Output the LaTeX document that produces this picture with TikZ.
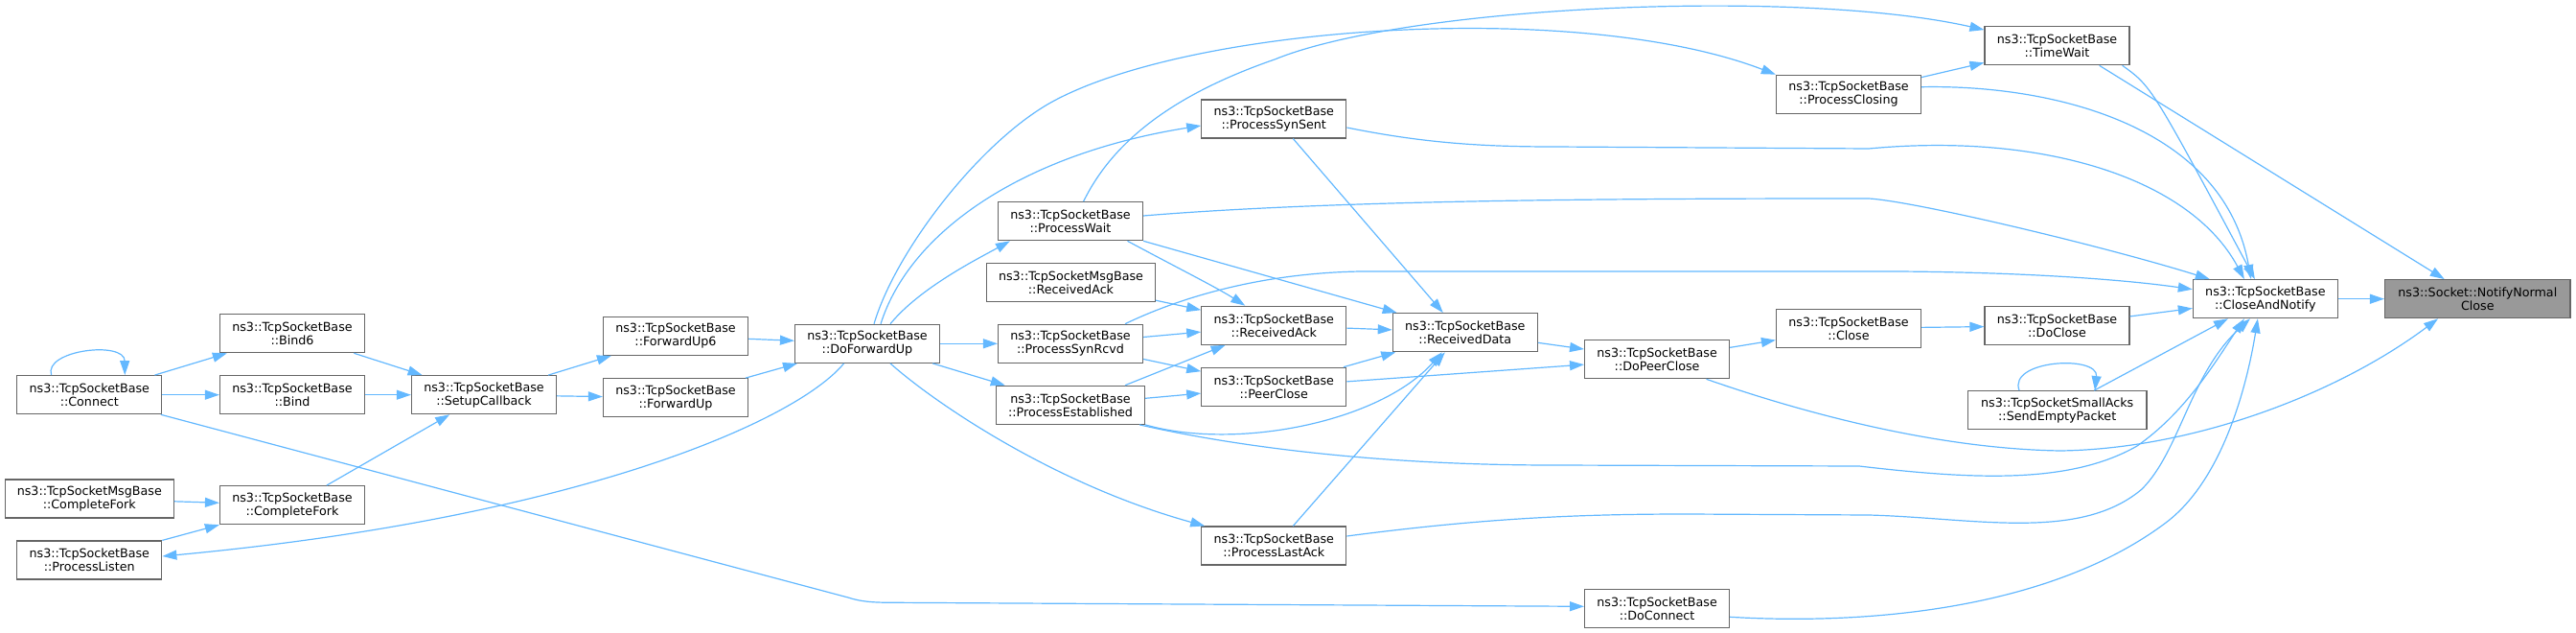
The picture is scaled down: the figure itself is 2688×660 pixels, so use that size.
\documentclass[tikz,border=0pt]{standalone}
\usepackage{fontspec}
\setmainfont{DejaVu Sans}
\usetikzlibrary{arrows.meta}
\definecolor{edgeblue}{HTML}{63B8FF}
\definecolor{boxgray}{HTML}{666666}
\definecolor{nncgray}{HTML}{999999}
\tikzset{
  nbox/.style={draw=boxgray, line width=1.2pt, fill=white, minimum height=40pt, minimum width=151pt,
    inner sep=0pt, align=center, font=\fontsize{12.7}{14}\selectfont},
  conn/.style={draw=edgeblue, line width=1.2pt, -{Triangle[length=15pt,width=10pt]}},
}
\begin{document}
\begin{tikzpicture}[x=1pt,y=-1pt]
\useasboundingbox (0,0) rectangle (2688,660);
% nodes
\node[nbox] (connect) at (93.3,411.7) {ns3::TcpSocketBase\\::Connect};
\node[nbox] (bindsix) at (305,347.7) {ns3::TcpSocketBase\\::Bind6};
\node[nbox] (bind) at (305,411.7) {ns3::TcpSocketBase\\::Bind};
\node[nbox] (setup) at (505,411.7) {ns3::TcpSocketBase\\::SetupCallback};
\node[nbox, minimum width=176pt] (msgfork) at (93.3,520) {ns3::TcpSocketMsgBase\\::CompleteFork};
\node[nbox] (fork) at (305,526.7) {ns3::TcpSocketBase\\::CompleteFork};
\node[nbox] (listen) at (93.3,584) {ns3::TcpSocketBase\\::ProcessListen};
\node[nbox] (fwdsix) at (705,350.3) {ns3::TcpSocketBase\\::ForwardUp6};
\node[nbox] (fwd) at (705,414.7) {ns3::TcpSocketBase\\::ForwardUp};
\node[nbox] (dofwd) at (905,358.3) {ns3::TcpSocketBase\\::DoForwardUp};
\node[nbox] (pwait) at (1117,230.7) {ns3::TcpSocketBase\\::ProcessWait};
\node[nbox, minimum width=176pt] (msgack) at (1117.5,294.5) {ns3::TcpSocketMsgBase\\::ReceivedAck};
\node[nbox] (synrcvd) at (1117,358.3) {ns3::TcpSocketBase\\::ProcessSynRcvd};
\node[nbox, minimum width=155pt] (established) at (1117,422.3) {ns3::TcpSocketBase\\::ProcessEstablished};
\node[nbox] (synsent) at (1329.3,124) {ns3::TcpSocketBase\\::ProcessSynSent};
\node[nbox] (rack) at (1329.3,339.3) {ns3::TcpSocketBase\\::ReceivedAck};
\node[nbox] (peerclose) at (1329.3,403.3) {ns3::TcpSocketBase\\::PeerClose};
\node[nbox] (lastack) at (1329.3,569) {ns3::TcpSocketBase\\::ProcessLastAck};
\node[nbox] (rdata) at (1528.8,346.7) {ns3::TcpSocketBase\\::ReceivedData};
\node[nbox] (dopeer) at (1729.1,374.7) {ns3::TcpSocketBase\\::DoPeerClose};
\node[nbox] (doconn) at (1729.1,634.3) {ns3::TcpSocketBase\\::DoConnect};
\node[nbox] (close) at (1929,342.3) {ns3::TcpSocketBase\\::Close};
\node[nbox] (pclosing) at (1929,98.3) {ns3::TcpSocketBase\\::ProcessClosing};
\node[nbox] (doclose) at (2146.5,339.7) {ns3::TcpSocketBase\\::DoClose};
\node[nbox] (timewait) at (2146.5,47.7) {ns3::TcpSocketBase\\::TimeWait};
\node[nbox, minimum width=186.5pt] (sendempty) at (2146.7,427.7) {ns3::TcpSocketSmallAcks\\::SendEmptyPacket};
\node[nbox] (cna) at (2363.9,311.7) {ns3::TcpSocketBase\\::CloseAndNotify};
\node[nbox, fill=nncgray, minimum width=193.5pt] (nnc) at (2585.3,311.7) {ns3::Socket::NotifyNormal\\Close};
% left part
\draw[conn] (connect) -- (bindsix);
\draw[conn] (connect) -- (bind);
\draw[conn] (bindsix) -- (setup);
\draw[conn] (bind) -- (setup);
\draw[conn] (fork) -- (setup);
\draw[conn] (msgfork) -- (fork);
\draw[conn] (listen) -- (fork);
\draw[conn] (setup) -- (fwdsix);
\draw[conn] (setup) -- (fwd);
\draw[conn] (fwdsix) -- (dofwd);
\draw[conn] (fwd) -- (dofwd);
\draw[conn] ([xshift=-39.7pt]connect.north) .. controls (45,365) and (130,355) .. ([xshift=37pt]connect.north);
\draw[conn] ([xshift=-1.5pt]connect.south east) -- (885,623) .. controls (900,628) and (915,628.3) .. (935,628.3) -- ([yshift=2pt]doconn.west);
\draw[conn] ([xshift=-24.4pt]dofwd.south) .. controls (830,440) and (600,540) .. ([yshift=4pt]listen.east);
\draw[conn] ([xshift=24pt]dofwd.south) .. controls (975,420) and (1100,505) .. ([xshift=4pt]lastack.north west);
\draw[conn] (dofwd) -- (synrcvd);
\draw[conn] (dofwd) -- (established);
\draw[conn] ([xshift=24pt]dofwd.north) .. controls (960,300) and (1020,270) .. ([xshift=13pt]pwait.south west);
\draw[conn] ([xshift=14pt]dofwd.north) .. controls (950,240) and (1070,160) .. ([yshift=-7pt]synsent.west);
\draw[conn] ([xshift=7pt]dofwd.north) .. controls (935,260) and (1025,145) .. (1100,105) .. controls (1250,25) and (1650,0) .. (pclosing.north west);
\draw[conn] ([xshift=13.6pt]pwait.north) .. controls (1160,150) and (1220,100) .. (1330,62) .. controls (1470,5) and (1880,-12) .. ([yshift=-4pt]timewait.north west);
% middle
\draw[conn] ([xshift=59.5pt]pwait.south) .. controls (1230,280) and (1270,300) .. ([xshift=-30pt]rack.north);
\draw[conn] (msgack) -- (rack);
\draw[conn] (synrcvd) -- (rack);
\draw[conn] (synrcvd) -- (peerclose);
\draw[conn] ([xshift=57pt]established.north) -- ([xshift=-50.7pt]rack.south);
\draw[conn] (established) -- (peerclose);
\draw[conn] (pwait.south east) -- ([xshift=5pt]rdata.north west);
\draw[conn] ([xshift=20pt]synsent.south) -- ([xshift=-23pt]rdata.north);
\draw[conn] (rack) -- (rdata);
\draw[conn] (peerclose) -- (rdata);
\draw[conn] (established.south east) .. controls (1290,470) and (1440,440) .. ([xshift=-24pt]rdata.south);
\draw[conn] ([xshift=20pt]lastack.north) -- ([xshift=-21pt]rdata.south);
\draw[conn] (rdata) -- (dopeer);
\draw[conn] (peerclose) -- (dopeer);
\draw[conn] (dopeer) -- (close);
\draw[conn] (close) -- (doclose);
\draw[conn] (pclosing) -- (timewait);
% into CloseAndNotify
\draw[conn] (doclose) -- (cna);
\draw[conn] ([xshift=57pt]synrcvd.north) .. controls (1215,318) and (1300,285) .. (1420,283) -- (1980,283) .. controls (2120,284) and (2220,292) .. ([yshift=10pt]cna.west);
\draw[conn] ([yshift=5.7pt]pwait.east) .. controls (1400,208) and (1700,207) .. (1950,207) .. controls (2000,210) and (2200,258) .. ([xshift=18pt]cna.north west);
\draw[conn] ([yshift=-9pt]synsent.east) .. controls (1480,148) and (1540,153) .. (1620,153) -- (1950,155) .. controls (2130,138) and (2285,185) .. ([xshift=-22pt]cna.north);
\draw[conn] ([yshift=7.6pt]pclosing.east) .. controls (2140,88) and (2320,130) .. ([xshift=-15pt]cna.north);
\draw[conn] ([xshift=-8pt]timewait.south east) .. controls (2245,90) .. ([xshift=-11pt]cna.north);
\draw[conn] ([xshift=-6pt]established.south east) .. controls (1300,468) and (1450,485) .. (1620,485) -- (1940,486) .. controls (2060,500) and (2160,505) .. (2230,465) .. controls (2280,430) and (2310,380) .. ([xshift=-22pt]cna.south);
\draw[conn] ([yshift=10pt]lastack.east) .. controls (1550,540) and (1650,536) .. (1760,536) -- (1950,537) .. controls (2060,540) and (2170,565) .. (2235,510) .. controls (2275,470) and (2285,390) .. ([xshift=-16pt]cna.south);
\draw[conn] ([yshift=-9pt]doconn.east) .. controls (1950,652) and (2140,635) .. (2260,545) .. controls (2320,500) and (2345,400) .. ([xshift=-8pt]cna.south);
\draw[conn] ([xshift=38.5pt]sendempty.north) -- ([xshift=-39pt]cna.south);
\draw[conn] ([xshift=-39.7pt]sendempty.north) .. controls (2095,375) and (2190,370) .. ([xshift=39.3pt]sendempty.north);
% into NotifyNormalClose
\draw[conn] (cna) -- (nnc);
\draw[conn] ([xshift=-32pt]timewait.south east) -- ([xshift=-34.6pt]nnc.north);
\draw[conn] ([xshift=51.4pt]dopeer.south) .. controls (1880,430) and (2020,468) .. (2150,470) .. controls (2290,468) and (2440,410) .. ([xshift=-41.3pt]nnc.south);
\end{tikzpicture}
\end{document}
